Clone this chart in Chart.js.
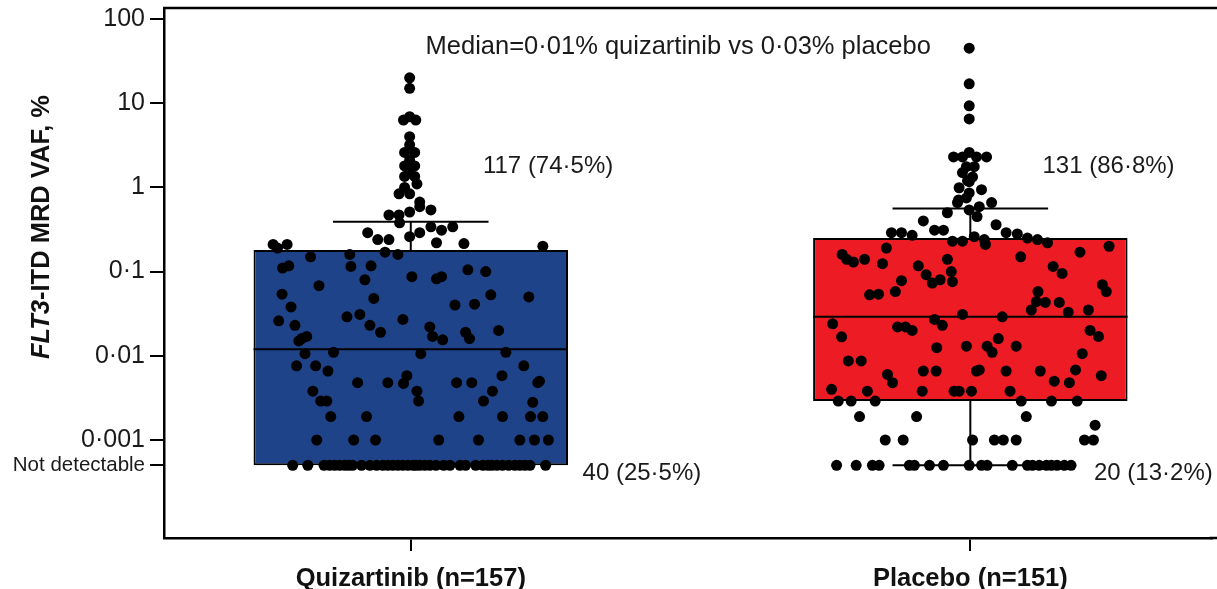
<!DOCTYPE html>
<html>
<head>
<meta charset="utf-8">
<script src="https://cdn.jsdelivr.net/npm/chart.js@4.4.0/dist/chart.umd.min.js"></script>
<style>
  html, body { margin: 0; padding: 0; background: #fff; overflow: hidden; }
  #wrap { width: 1217px; height: 589px; position: relative; }
</style>
</head>
<body>
<div id="wrap"><canvas id="myChart"></canvas></div>
<script>
// groups and box statistics (VAF, %)
var groups = ['Quizartinib (n=157)', 'Placebo (n=151)'];
var ND = 0.0005; // "Not detectable" row
var boxLow = [ND, 0.0029];
var boxHigh = [0.18, 0.25];
var medians = [0.012, 0.029];
var whiskerHigh = [0.39, 0.56];
var whiskerLow = [ND, ND];
var boxColors = ['#1e4388', '#ed1c24'];

// y tick values and labels
var yTicks = [100, 10, 1, 0.1, 0.01, 0.001, ND];
var yTickLabels = ['100', '10', '1', '0\u00b71', '0\u00b701', '0\u00b7001', 'Not detectable'];

// individual patients: jitter (category units) and VAF %
var quizJitter = [-0.002, -0.002, -0.013, 0.009, -0.002, -0.002, -0.002, -0.011, 0.007, -0.002,
  -0.011, 0.007, -0.002, -0.011, 0.007, 0.011, -0.011, -0.021, -0.002, 0.016,
  0.016, 0.036, -0.002, -0.039, -0.021, -0.020, 0.036, 0.055, 0.075, -0.077,
  0.016, -0.002, -0.059, -0.039, 0.046, 0.095, -0.246, -0.221, -0.238, 0.236,
  -0.046, -0.023, -0.109, -0.179, -0.229, -0.218, -0.107, -0.071, 0.002, 0.046,
  0.055, 0.102, 0.134, -0.082, -0.164, -0.230, -0.066, 0.143, 0.211, -0.214,
  0.079, 0.114, -0.236, -0.114, -0.091, -0.014, -0.207, -0.073, -0.054, 0.034,
  0.039, 0.057, 0.098, 0.105, 0.157, -0.186, -0.195, -0.200, -0.138, 0.018,
  0.170, -0.189, -0.204, -0.170, -0.148, 0.202, -0.007, -0.013, 0.163, -0.095,
  -0.041, 0.082, 0.109, 0.227, 0.230, -0.175, 0.011, 0.014, 0.146, -0.161,
  -0.150, 0.130, 0.218, -0.143, -0.079, 0.086, 0.164, 0.214, 0.236, -0.168,
  -0.102, -0.063, 0.050, 0.121, 0.195, 0.221, 0.246];
var quizVaf = [20, 15, 6.3, 6.3, 6.9, 4.0, 3.2, 2.6, 2.6, 2.1,
  1.8, 1.8, 1.5, 1.35, 1.35, 1.1, 1.0, 0.84, 0.84, 0.67,
  0.59, 0.54, 0.51, 0.47, 0.47, 0.38, 0.34, 0.31, 0.34, 0.29,
  0.29, 0.26, 0.24, 0.24, 0.22, 0.215, 0.21, 0.21, 0.19, 0.2,
  0.17, 0.16, 0.16, 0.15, 0.11, 0.117, 0.115, 0.117, 0.087, 0.082,
  0.087, 0.105, 0.1, 0.08, 0.068, 0.054, 0.048, 0.053, 0.05, 0.038,
  0.04, 0.041, 0.026, 0.029, 0.031, 0.027, 0.023, 0.023, 0.019, 0.022,
  0.017, 0.0155, 0.019, 0.016, 0.02, 0.017, 0.016, 0.015, 0.011, 0.0106,
  0.011, 0.0106, 0.0076, 0.0076, 0.0066, 0.0076, 0.0058, 0.0047, 0.0058, 0.0048,
  0.0048, 0.0048, 0.0048, 0.0048, 0.005, 0.0038, 0.0038, 0.0029, 0.0038, 0.0029,
  0.0029, 0.0029, 0.0028, 0.0019, 0.0019, 0.0019, 0.0019, 0.0019, 0.0019, 0.001,
  0.001, 0.001, 0.001, 0.001, 0.001, 0.001, 0.001];
var quizNdJitter = [-0.211, -0.184, -0.155, -0.145, -0.136, -0.127, -0.118, -0.111, -0.104, -0.088,
  -0.073, -0.061, -0.050, -0.041, -0.032, -0.023, -0.014, -0.005, 0.004, 0.009,
  0.016, 0.025, 0.034, 0.045, 0.059, 0.070, 0.088, 0.098, 0.116, 0.129,
  0.138, 0.145, 0.154, 0.164, 0.175, 0.186, 0.195, 0.204, 0.213, 0.241];

var placeboJitter = [-0.002, -0.002, -0.002, -0.002, -0.002, -0.030, 0.029, -0.014, 0.011, -0.007,
  0.007, -0.014, 0.004, -0.002, -0.020, 0.020, -0.002, -0.021, -0.007, -0.023,
  0.016, 0.038, -0.002, -0.041, -0.084, 0.046, -0.064, -0.048, -0.141, -0.123,
  -0.104, 0.064, 0.084, 0.102, 0.120, 0.138, -0.032, -0.014, 0.007, 0.025,
  0.196, 0.248, -0.229, -0.221, -0.209, -0.189, -0.157, -0.093, -0.041, -0.034,
  -0.032, -0.079, -0.068, -0.054, -0.123, -0.134, -0.180, -0.164, 0.148, 0.164,
  0.236, 0.243, 0.121, 0.118, 0.134, 0.109, 0.159, 0.211, -0.014, 0.057,
  -0.246, -0.130, -0.116, -0.104, -0.064, -0.050, -0.230, 0.050, -0.007, 0.030,
  0.039, 0.082, 0.214, 0.229, 0.200, -0.218, -0.195, -0.084, -0.061, 0.011,
  0.016, 0.064, 0.125, 0.188, -0.148, -0.139, 0.234, 0.177, -0.248, -0.184,
  -0.086, -0.029, -0.020, 0.002, 0.071, -0.236, -0.213, -0.170, 0.091, 0.145,
  0.191, -0.198, -0.096, 0.100, 0.223, -0.152, -0.120, 0.004, 0.043, 0.059,
  0.082, 0.204, 0.220, -0.005, 0.012, 0.027, -0.150, 0.090, 0.175, -0.060, 0.150];
var placeboVaf = [45, 17, 9.3, 6.5, 2.6, 2.3, 2.3, 2.3, 2.3, 1.76,
  1.76, 1.5, 1.33, 1.17, 0.99, 0.94, 0.86, 0.71, 0.75, 0.66,
  0.59, 0.66, 0.54, 0.5, 0.4, 0.36, 0.31, 0.31, 0.29, 0.29,
  0.27, 0.29, 0.28, 0.25, 0.24, 0.22, 0.23, 0.23, 0.26, 0.24,
  0.17, 0.2, 0.16, 0.14, 0.13, 0.14, 0.124, 0.117, 0.14, 0.1,
  0.076, 0.092, 0.073, 0.08, 0.078, 0.058, 0.053, 0.054, 0.115, 0.095,
  0.07, 0.058, 0.058, 0.044, 0.043, 0.035, 0.043, 0.035, 0.031, 0.029,
  0.024, 0.022, 0.022, 0.02, 0.027, 0.023, 0.0168, 0.016, 0.013, 0.013,
  0.011, 0.013, 0.02, 0.017, 0.0106, 0.0087, 0.0087, 0.0066, 0.0066, 0.0066,
  0.0068, 0.0066, 0.0066, 0.0068, 0.006, 0.0048, 0.0058, 0.0048, 0.004, 0.0038,
  0.0038, 0.0038, 0.0038, 0.0038, 0.0038, 0.0029, 0.0029, 0.0029, 0.0029, 0.0029,
  0.0029, 0.0019, 0.0019, 0.0019, 0.0015, 0.001, 0.001, 0.001, 0.001, 0.001,
  0.001, 0.001, 0.001, 1.2, 0.45, 0.21, 0.19, 0.15, 0.033, 0.0125, 0.005];
var placeboNdJitter = [-0.239, -0.204, -0.175, -0.163, -0.109, -0.100, -0.073, -0.048, -0.002, 0.020,
  0.030, 0.075, 0.102, 0.111, 0.123, 0.136, 0.145, 0.155, 0.168, 0.180];

// text annotations
var annoText = ['Median=0\u00b701% quizartinib vs 0\u00b703% placebo', '117 (74\u00b75%)', '131 (86\u00b78%)', '40 (25\u00b75%)', '20 (13\u00b72%)'];
var annoX = [0.478, 0.129, 1.129, 0.307, 1.221];
var annoY = [46, 1.8, 1.8, 0.0004, 0.0004];
var annoAlign = ['center', 'left', 'left', 'left', 'left'];
var annoSize = [25.5, 24, 24, 24, 24];

var BOX_HALF = 0.281;
var CAP_HALF = 0.139;
var FONT = '"Liberation Sans", Arial, Helvetica, sans-serif';
Chart.defaults.font.family = FONT;

var dots = [];
quizVaf.forEach(function(v, i) { dots.push({ x: 0 + quizJitter[i], y: v }); });
quizNdJitter.forEach(function(j) { dots.push({ x: 0 + j, y: ND }); });
placeboVaf.forEach(function(v, i) { dots.push({ x: 1 + placeboJitter[i], y: v }); });
placeboNdJitter.forEach(function(j) { dots.push({ x: 1 + j, y: ND }); });

// medians, whiskers and caps as line segments separated by gaps
var segs = [];
function seg(x1, y1, x2, y2) {
  segs.push({ x: x1, y: y1 }, { x: x2, y: y2 }, { x: x1, y: null });
}
groups.forEach(function(g, i) {
  seg(i - BOX_HALF, medians[i], i + BOX_HALF, medians[i]);
  seg(i, boxHigh[i], i, whiskerHigh[i]);
  seg(i - CAP_HALF, whiskerHigh[i], i + CAP_HALF, whiskerHigh[i]);
  if (whiskerLow[i] < boxLow[i]) {
    seg(i, boxLow[i], i, whiskerLow[i]);
    seg(i - CAP_HALF, whiskerLow[i], i + CAP_HALF, whiskerLow[i]);
  }
});

var extras = {
  id: 'extras',
  afterDraw: function(chart) {
    var c = chart.ctx, a = chart.chartArea;
    var xs = chart.scales.x, ys = chart.scales.y;
    c.save();
    // frame lines run off the right edge
    c.strokeStyle = '#000';
    c.lineWidth = 2.5;
    c.beginPath();
    c.moveTo(a.left - 1, a.top);
    c.lineTo(chart.width, a.top);
    c.moveTo(a.right - 2, a.bottom);
    c.lineTo(chart.width, a.bottom);
    c.stroke();

    // annotations
    c.fillStyle = '#1a1a1a';
    c.textBaseline = 'middle';
    annoText.forEach(function(t, i) {
      c.font = annoSize[i] + 'px ' + FONT;
      c.textAlign = annoAlign[i];
      c.fillText(t, xs.getPixelForValue(annoX[i]), ys.getPixelForValue(annoY[i]));
    });

    // y axis title, FLT3 in italics
    c.translate(42, 227);
    c.rotate(-Math.PI / 2);
    var p1 = 'FLT3', p2 = '-ITD MRD VAF, %';
    var f1 = 'italic bold 25.5px ' + FONT, f2 = 'bold 25.5px ' + FONT;
    c.font = f1; var w1 = c.measureText(p1).width;
    c.font = f2; var w2 = c.measureText(p2).width;
    var x0 = -(w1 + w2) / 2;
    c.textAlign = 'left';
    c.fillStyle = '#111';
    c.font = f1; c.fillText(p1, x0, 0);
    c.font = f2; c.fillText(p2, x0 + w1, 0);
    c.restore();
  }
};

var ctx = document.getElementById('myChart');
var myChart = new Chart(ctx, {
  data: {
    datasets: [{
      type: 'bar',
      data: groups.map(function(g, i) { return { x: i, y: [boxLow[i], boxHigh[i]] }; }),
      backgroundColor: boxColors,
      borderColor: '#000',
      borderWidth: 2,
      borderSkipped: false,
      barPercentage: BOX_HALF * 2,
      categoryPercentage: 1,
      order: 3
    }, {
      type: 'scatter',
      data: segs,
      showLine: true,
      spanGaps: false,
      borderColor: '#000',
      borderWidth: 2,
      pointRadius: 0,
      order: 2
    }, {
      type: 'scatter',
      data: dots,
      pointRadius: 5.5,
      backgroundColor: '#000',
      borderWidth: 0,
      order: 1
    }]
  },
  options: {
    responsive: true,
    maintainAspectRatio: false,
    animation: false,
    layout: { padding: { top: 8, right: 0, left: 0, bottom: 0 } },
    plugins: { legend: { display: false }, tooltip: { enabled: false } },
    scales: {
      x: {
        type: 'linear',
        offset: false,
        min: -0.441,
        max: 1.431,
        afterBuildTicks: function(axis) {
          axis.ticks = groups.map(function(g, i) { return { value: i }; });
        },
        afterFit: function(axis) {
          axis.height = 51;
          axis.paddingLeft = 0;
          axis.paddingRight = 0;
        },
        ticks: {
          callback: function(v) { return groups[v]; },
          font: { size: 25.5, weight: 'bold' },
          color: '#111',
          padding: 13,
          maxRotation: 0,
          autoSkip: false
        },
        grid: { offset: false, drawOnChartArea: false, tickLength: 13, color: '#000', lineWidth: 2 },
        border: { display: true, color: '#000', width: 2.5 }
      },
      y: {
        type: 'logarithmic',
        min: 0.0000686,
        max: 135,
        afterBuildTicks: function(axis) {
          axis.ticks = yTicks.map(function(v) { return { value: v }; });
        },
        afterFit: function(axis) {
          axis.width = 164;
          axis.paddingTop = 0;
          axis.paddingBottom = 0;
        },
        ticks: {
          callback: function(v) { return yTickLabels[yTicks.indexOf(v)]; },
          font: function(c) {
            return { size: (c.tick && c.tick.value === ND) ? 20.5 : 25 };
          },
          color: '#1a1a1a',
          padding: 5,
          autoSkip: false
        },
        grid: { drawOnChartArea: false, tickLength: 14, color: '#000', lineWidth: 2 },
        border: { display: true, color: '#000', width: 2.5 }
      }
    }
  },
  plugins: [extras]
});
</script>
</body>
</html>
